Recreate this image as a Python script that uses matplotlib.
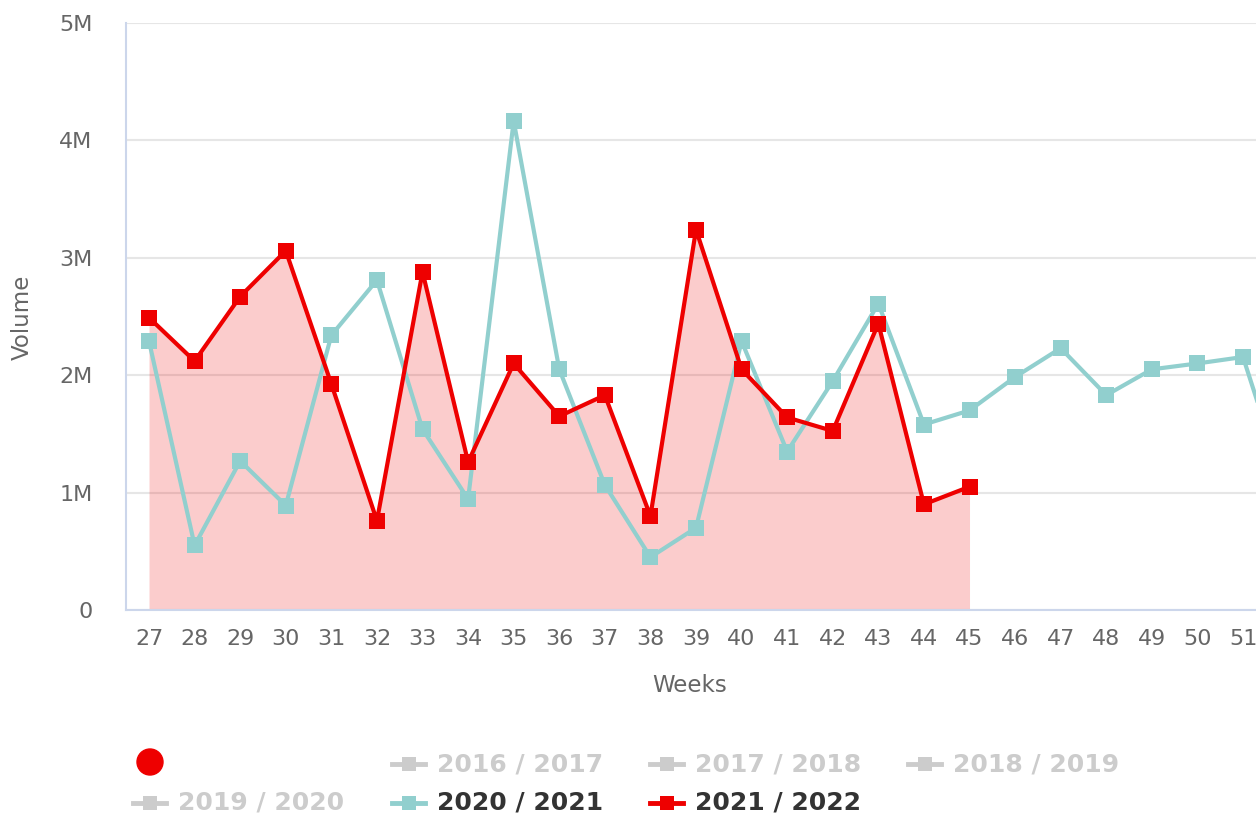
import matplotlib
matplotlib.use("Agg")
import matplotlib.pyplot as plt
from matplotlib.lines import Line2D
from matplotlib.patches import Ellipse
from matplotlib.ticker import FuncFormatter

plt.rcParams['font.family'] = ['DejaVu Sans']

# ---- data ----
weeks_2020 = list(range(27, 53))
vol_2020 = [2.29, 0.55, 1.27, 0.89, 2.34, 2.81, 1.54, 0.945, 4.165, 2.05,
            1.065, 0.45, 0.70, 2.29, 1.35, 1.95, 2.61, 1.58, 1.70, 1.985,
            2.23, 1.83, 2.05, 2.10, 2.155, 0.95]
weeks_2021 = list(range(27, 46))
vol_2021 = [2.49, 2.12, 2.67, 3.06, 1.925, 0.76, 2.88, 1.26, 2.10, 1.65,
            1.83, 0.80, 3.24, 2.05, 1.64, 1.525, 2.44, 0.90, 1.05]
x_ticks = list(range(27, 52))
y_ticks = [0, 1e6, 2e6, 3e6, 4e6, 5e6]
legend_labels = ["2016 / 2017", "2017 / 2018", "2018 / 2019",
                 "2019 / 2020", "2020 / 2021", "2021 / 2022"]
series_2020_name = "2020 / 2021"
series_2021_name = "2021 / 2022"

RED = '#ee0000'
TEAL = '#91cfce'
GREY = '#cccccc'
TXT = '#666666'

W, H = 1256, 816
fig = plt.figure(figsize=(W / 100, H / 100), dpi=100)
ax = fig.add_axes([126 / W, 1 - 610 / H, (W - 126) / W, (610 - 23) / H])

v20 = [v * 1e6 for v in vol_2020]
v21 = [v * 1e6 for v in vol_2021]

ax.fill_between(weeks_2021, v21, 0, color=RED, alpha=0.2, linewidth=0, zorder=2)
ax.plot(weeks_2020, v20, color=TEAL, lw=3, marker='s', ms=12, mew=0, zorder=3)
ax.plot(weeks_2021, v21, color=RED, lw=3, marker='s', ms=12, mew=0, zorder=4)

ax.set_xlim(26.495, 51.285)
ax.set_ylim(0, 5e6)
ax.set_xticks(x_ticks)
ax.set_yticks(y_ticks)
ax.yaxis.set_major_formatter(FuncFormatter(lambda v, p: "0" if v == 0 else f"{v/1e6:.0f}M"))
ax.tick_params(axis='both', length=0, labelsize=16, labelcolor=TXT)
ax.tick_params(axis='y', pad=24)
ax.tick_params(axis='x', pad=14)
ax.grid(axis='y', color='#e6e6e6', lw=1.5, zorder=0)
ax.set_axisbelow(True)
for s in ['top', 'right']:
    ax.spines[s].set_visible(False)
for s in ['left', 'bottom']:
    ax.spines[s].set_color('#ccd6eb')
    ax.spines[s].set_linewidth(1.5)

fig.text(690 / W, 1 - 685 / H, "Weeks", ha='center', va='center', fontsize=16.5, color=TXT)
fig.text(22 / W, 1 - 317 / H, "Volume", ha='center', va='center', rotation=90,
         fontsize=16.5, color=TXT)

# ---- legend ----
fig.add_artist(Ellipse((150 / W, 1 - 762 / H), 26 / W, 26 / H, color=RED,
                       transform=fig.transFigure))


def legend_item(x0, y, color, label, tcolor):
    yf = 1 - y / H
    fig.add_artist(Line2D([x0 / W, (x0 + 33) / W], [yf, yf], color=color, lw=3.5,
                          transform=fig.transFigure))
    fig.add_artist(Line2D([(x0 + 16.5) / W], [yf], color=color, marker='s', ms=10.5,
                          mew=0, transform=fig.transFigure))
    fig.text((x0 + 45) / W, yf, label, ha='left', va='center', fontsize=18,
             fontweight='bold', color=tcolor)


positions = [(392, 764), (650, 764), (908, 764), (133, 803), (392, 803), (650, 803)]
for lab, (x0, y) in zip(legend_labels, positions):
    if lab == series_2020_name:
        legend_item(x0, y, TEAL, lab, '#333333')
    elif lab == series_2021_name:
        legend_item(x0, y, RED, lab, '#333333')
    else:
        legend_item(x0, y, GREY, lab, GREY)

fig.savefig("out.png", dpi=100)
